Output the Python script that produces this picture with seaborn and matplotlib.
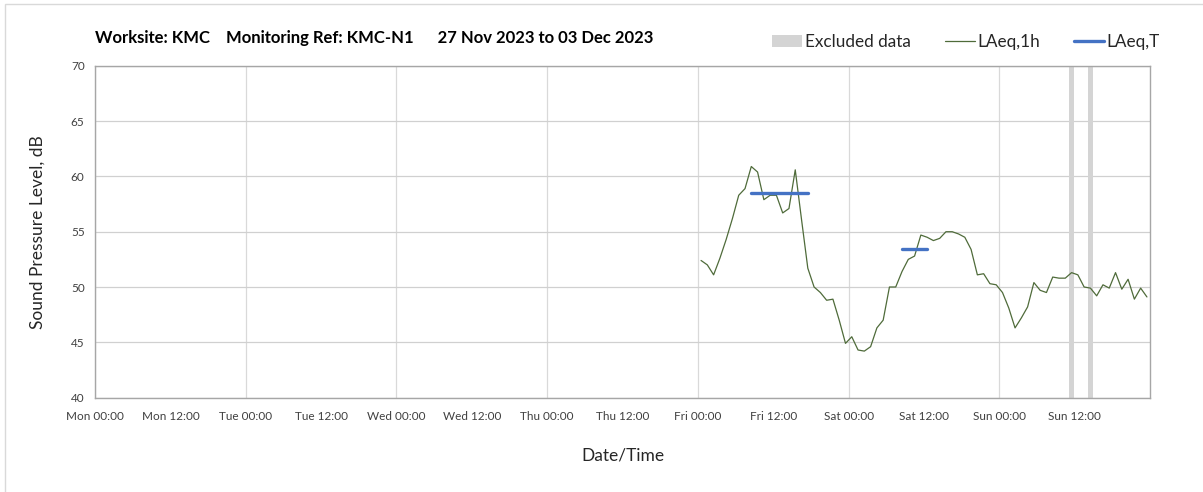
# Noise monitoring chart - KMC-N1, week of 27 Nov 2023
import pandas as pd
import matplotlib.pyplot as plt
import matplotlib.dates as mdates
from matplotlib.patches import Patch, Rectangle
from matplotlib.lines import Line2D
import seaborn as sns

# ------------------------------------------------------------------
# Data
# ------------------------------------------------------------------
week_start = '2023-11-27 00:00'
week_end = '2023-12-04 00:00'

# hourly LAeq,1h, first sample Fri 01 Dec 00:30
laeq_1h_start = '2023-12-01 00:30'
laeq_1h = [
    52.4, 52.0, 51.1, 52.6, 54.3, 56.2, 58.3, 58.9, 60.9, 60.4,
    57.9, 58.3, 58.3, 56.7, 57.1, 60.6, 56.1, 51.7, 50.0, 49.5,
    48.8, 48.9, 47.0, 44.9, 45.5, 44.3, 44.2, 44.6, 46.3, 47.0,
    50.0, 50.0, 51.4, 52.5, 52.8, 54.7, 54.5, 54.2, 54.4, 55.0,
    55.0, 54.8, 54.5, 53.4, 51.1, 51.2, 50.3, 50.2, 49.5, 48.1,
    46.3, 47.2, 48.2, 50.4, 49.7, 49.5, 50.9, 50.8, 50.8, 51.3,
    51.1, 50.0, 49.9, 49.2, 50.2, 49.9, 51.3, 49.8, 50.7, 48.9,
    49.9, 49.1,
]

# LAeq,T periods
laeq_t_start = ['2023-12-01 08:30', '2023-12-02 08:30']
laeq_t_end = ['2023-12-01 17:30', '2023-12-02 12:30']
laeq_t = [58.5, 53.4]

# excluded data periods
excl_start = ['2023-12-03 11:03', '2023-12-03 14:03']
excl_end = ['2023-12-03 11:55', '2023-12-03 14:55']

# ------------------------------------------------------------------
# Build tables
# ------------------------------------------------------------------
df_1h = pd.DataFrame({
    'time': pd.date_range(laeq_1h_start, periods=len(laeq_1h), freq='h'),
    'level': laeq_1h,
})

df_t = pd.DataFrame({
    'time': pd.to_datetime(laeq_t_start + laeq_t_end),
    'level': laeq_t + laeq_t,
    'period': list(range(len(laeq_t))) * 2,
})

# ------------------------------------------------------------------
# Plot
# ------------------------------------------------------------------
sns.set_theme(style='white')
plt.rcParams['font.family'] = ['Lato', 'DejaVu Sans']

green = '#4f6b3a'
blue = '#4472c4'
grey_band = '#d4d4d4'
axis_grey = '#a6a6a6'

fig, ax = plt.subplots(figsize=(12.03, 4.92), dpi=100)
fig.subplots_adjust(left=0.079, right=0.956, top=0.866, bottom=0.192)

# excluded periods as grey bands
for s, e in zip(excl_start, excl_end):
    ax.axvspan(pd.Timestamp(s), pd.Timestamp(e), color=grey_band, lw=0, zorder=1)

sns.lineplot(data=df_1h, x='time', y='level', color=green, linewidth=0.9,
             ax=ax, zorder=3)
sns.lineplot(data=df_t, x='time', y='level', units='period', estimator=None,
             color=blue, linewidth=2.4, ax=ax, zorder=4)

# axes
ax.set_xlim(pd.Timestamp(week_start), pd.Timestamp(week_end))
ax.set_ylim(40, 70)
ax.set_yticks(range(40, 71, 5))

ax.set_xticks(pd.date_range(week_start, periods=7, freq='D'))
ax.set_xticks(pd.date_range('2023-11-27 12:00', periods=7, freq='D'), minor=True)
fmt = mdates.DateFormatter('%a %H:%M')
ax.xaxis.set_major_formatter(fmt)
ax.xaxis.set_minor_formatter(fmt)

ax.grid(axis='y', color='#d0d0d0', linewidth=0.9)
ax.grid(axis='x', which='major', color='#d9d9d9', linewidth=0.9)
ax.set_axisbelow(True)

for sp in ax.spines.values():
    sp.set_color(axis_grey)
    sp.set_linewidth(1.0)

ax.tick_params(axis='both', which='both', direction='out', length=4,
               width=0.9, color=axis_grey, labelsize=8.5, labelcolor='#404040')
ax.tick_params(axis='x', which='both', pad=6)

ax.set_xlabel('Date/Time', fontsize=12.5, color='#262626', labelpad=18)
ax.set_ylabel('Sound Pressure Level, dB', fontsize=12.5, color='#262626', labelpad=18)

# title
fig.text(0.079, 0.922,
         'Worksite: KMC    Monitoring Ref: KMC-N1      27 Nov 2023 to 03 Dec 2023',
         fontsize=12.0, fontweight='bold', color='black', ha='left', va='center')

# legend
handles = [
    Patch(facecolor=grey_band, edgecolor='none'),
    Line2D([], [], color=green, linewidth=0.9),
    Line2D([], [], color=blue, linewidth=2.4),
]
labels = ['Excluded data', 'LAeq,1h', 'LAeq,T']
fig.legend(handles, labels, loc='center right', bbox_to_anchor=(0.964, 0.915),
           ncol=3, frameon=False, fontsize=12.3, handlelength=1.75,
           handletextpad=0.15, columnspacing=2.0, labelcolor='#262626',
           borderaxespad=0, borderpad=0)

# outer chart frame
fig.patches.append(Rectangle((0.0045, -0.1), 1.2, 1.092, transform=fig.transFigure,
                             fill=False, edgecolor='#d9d9d9', linewidth=1.0))

plt.savefig('out.png', dpi=100)
